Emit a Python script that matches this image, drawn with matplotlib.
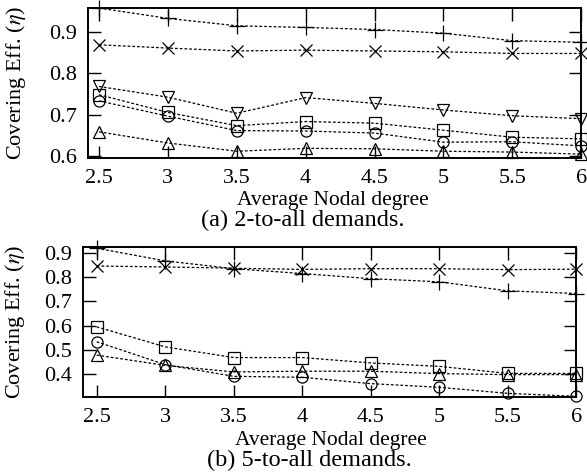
import matplotlib
matplotlib.use("Agg")
import matplotlib.pyplot as plt

plt.rcParams["font.family"] = ["Liberation Serif", "DejaVu Serif"]
plt.rcParams["mathtext.fontset"] = "stix"

# average nodal degree
degree = [2.5, 3, 3.5, 4, 4.5, 5, 5.5, 6]

# (a) 2-to-all demands
a_plus = [0.958, 0.933, 0.915, 0.911, 0.906, 0.897, 0.879, 0.875]
a_cross = [0.869, 0.861, 0.854, 0.856, 0.854, 0.852, 0.848, 0.848]
a_tridown = [0.768, 0.742, 0.703, 0.741, 0.727, 0.711, 0.697, 0.690]
a_square = [0.748, 0.705, 0.673, 0.683, 0.679, 0.662, 0.645, 0.641]
a_circle = [0.733, 0.696, 0.661, 0.660, 0.655, 0.633, 0.634, 0.624]
a_triup = [0.658, 0.631, 0.611, 0.618, 0.617, 0.611, 0.609, 0.604]

# (b) 5-to-all demands
b_plus = [0.918, 0.866, 0.834, 0.814, 0.793, 0.780, 0.743, 0.732]
b_cross = [0.845, 0.841, 0.836, 0.831, 0.834, 0.834, 0.830, 0.832]
b_square = [0.595, 0.513, 0.469, 0.469, 0.447, 0.433, 0.404, 0.404]
b_circle = [0.534, 0.440, 0.392, 0.388, 0.362, 0.347, 0.322, 0.310]
b_triup = [0.479, 0.437, 0.410, 0.413, 0.413, 0.403, 0.399, 0.399]

XTICKS = [2.5, 3, 3.5, 4, 4.5, 5, 5.5, 6]
XTICKLABELS = ["2.5", "3", "3.5", "4", "4.5", "5", "5.5", "6"]

LS = (0, (2.2, 1.6))
FS = 16
W, H = 587, 474


def draw(ax, series, ylab_x):
    for vals, marker, ms in series:
        ax.plot(degree, vals, linestyle=LS, color="black", linewidth=0.9,
                marker=marker, markersize=ms, markerfacecolor="none",
                markeredgecolor="black", markeredgewidth=0.9, clip_on=False)
    ax.set_xticks(XTICKS)
    ax.set_xticklabels(XTICKLABELS)
    ax.tick_params(direction="in", length=9, width=1.0, top=True, right=True,
                   labelsize=FS, pad=8)
    ax.tick_params(axis="x", pad=8)
    for s in ax.spines.values():
        s.set_linewidth(1.4)
    ax.set_ylabel(r"Covering Eff. ($\eta$)", fontsize=FS)
    ax.yaxis.set_label_coords(ylab_x, 0.5)


fig = plt.figure(figsize=(W / 100, H / 100), dpi=100)

ax1 = fig.add_axes([0.150, 0.667, 0.840, 0.316])
draw(ax1, [(a_plus, "+", 11), (a_cross, "x", 8), (a_tridown, "v", 8),
           (a_square, "s", 8), (a_circle, "o", 8), (a_triup, "^", 8)], -0.122)
ax1.set_xlim(2.42, 6.0)
ax1.set_ylim(0.595, 0.958)
ax1.set_yticks([0.6, 0.7, 0.8, 0.9])
ax1.set_yticklabels(["0.6", "0.7", "0.8", "0.9"])
fig.text(333 / W, 1 - 205 / H, "Average Nodal degree", ha="center", va="baseline", fontsize=15.5)
fig.text(303 / W, 1 - 226 / H, "(a) 2-to-all demands.", ha="center", va="baseline", fontsize=17.5)

ax2 = fig.add_axes([0.1414, 0.1624, 0.840, 0.316])
draw(ax2, [(b_plus, "+", 11), (b_cross, "x", 8), (b_square, "s", 8),
           (b_circle, "o", 8), (b_triup, "^", 8)], -0.114)
ax2.set_xlim(2.4, 6.0)
ax2.set_ylim(0.307, 0.922)
ax2.set_yticks([0.4, 0.5, 0.6, 0.7, 0.8, 0.9])
ax2.set_yticklabels(["0.4", "0.5", "0.6", "0.7", "0.8", "0.9"])
fig.text(331 / W, 1 - 445 / H, "Average Nodal degree", ha="center", va="baseline", fontsize=15.5)
fig.text(309 / W, 1 - 466 / H, "(b) 5-to-all demands.", ha="center", va="baseline", fontsize=17.5)

fig.savefig("out.png", dpi=100)
